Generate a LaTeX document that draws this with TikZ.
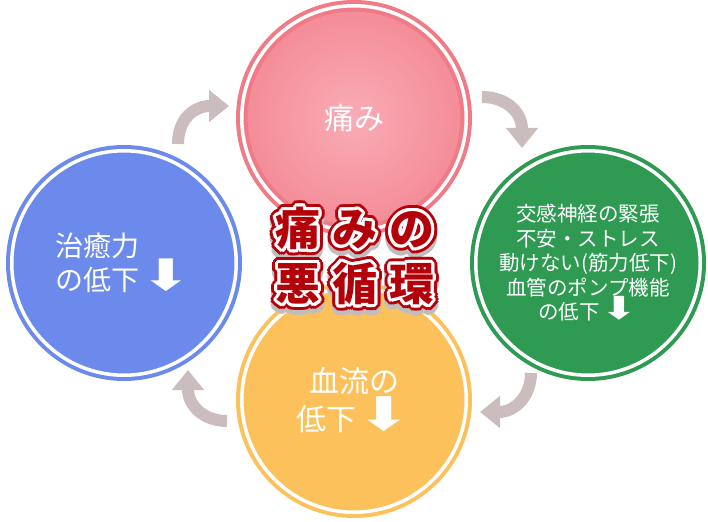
\documentclass[tikz,border=0pt]{standalone}
\usepackage{fontspec}
\setmainfont{Noto Sans CJK JP}
\newfontfamily\jpfont{Noto Sans CJK JP}
\newfontfamily\symfont{DejaVu Sans}
\usetikzlibrary{calc,positioning,arrows.meta,shapes}

\definecolor{painpink}{RGB}{240,122,134}
\definecolor{pinklight}{RGB}{250,172,182}
\definecolor{healblue}{RGB}{107,138,235}
\definecolor{nervegreen}{RGB}{46,154,82}
\definecolor{flowyellow}{RGB}{253,193,91}
\definecolor{arrowgray}{RGB}{203,189,189}
\definecolor{ttlred}{RGB}{180,0,8}
\definecolor{shadowgray}{RGB}{195,188,188}
\pgfdeclareradialshading{pinkglow}{\pgfpoint{0bp}{0bp}}{color(0bp)=(pinklight); color(38bp)=(painpink); color(50bp)=(painpink)}

\newcommand{\ttltext}{痛\hspace{12pt}み\hspace{12pt}の\\悪\hspace{12pt}循\hspace{12pt}環}
\newcommand{\dnarrow}{\hspace{0.02em}\smash{\scalebox{2.2}[1.55]{\symfont ⬇}}}

\begin{document}
\begin{tikzpicture}[x=1pt,y=-1pt,
  ball/.style={circle,minimum size=224.5pt,inner sep=0pt,line width=4pt,double=white,double distance=3.5pt,text=white,align=center},
  cyc/.style={line width=12pt,draw=arrowgray,-{Triangle[width=31pt,length=20pt]}},
  ttl/.style={align=center,inner sep=0pt,font=\jpfont\bfseries\fontsize{45}{55}\selectfont}]
  \useasboundingbox (0,0) rectangle (708,521);

  % circles
  \node[ball,shading=pinkglow,draw=painpink,font=\jpfont\fontsize{30}{36}\selectfont] (pain) at (354,118) {痛み};
  \node[ball,fill=healblue,draw=healblue,align=left,font=\jpfont\fontsize{28}{34}\selectfont] (heal) at (124,263) {治癒力\\の低下\dnarrow};
  \node[ball,fill=nervegreen,draw=nervegreen,font=\jpfont\fontsize{20.5}{24.5}\selectfont] (nerve) at (588,263) {交感神経の緊張\\不安・ストレス\\動けない(筋力低下)\\血管のポンプ機能\\の低下\dnarrow};
  \node[ball,fill=flowyellow,draw=flowyellow,font=\jpfont\fontsize{30}{38}\selectfont] (flow) at (354,400) {血流の\\低下\dnarrow};

  % arrows
  \coordinate (hp0) at (178,144); \coordinate (hp1) at (229,106);
  \coordinate (pn0) at (482,97);  \coordinate (pn1) at (522,148);
  \coordinate (nf0) at (531,373); \coordinate (nf1) at (480,412);
  \coordinate (fh0) at (227,421); \coordinate (fh1) at (188,370);
  \draw[cyc] (hp0) .. controls (178,118) and (195,106) .. (hp1);
  \draw[cyc] (pn0) .. controls (506,97) and (522,112) .. (pn1);
  \draw[cyc] (nf0) .. controls (531,396) and (515,412) .. (nf1);
  \draw[cyc] (fh0) .. controls (204,421) and (188,406) .. (fh1);

  % title
  \coordinate (ttl) at (355,256);
  \foreach \a in {0,20,...,340}
    \node[ttl,text=shadowgray] at ($(ttl)+(0,5)+(\a:6)$) {\ttltext};
  \foreach \a in {0,15,...,345}
    \node[ttl,text=ttlred] at ($(ttl)+(\a:6)$) {\ttltext};
  \foreach \a in {0,20,...,340}
    \node[ttl,text=white] at ($(ttl)+(\a:3)$) {\ttltext};
  \node[ttl,text=ttlred] (title) at (ttl) {\ttltext};
\end{tikzpicture}
\end{document}
